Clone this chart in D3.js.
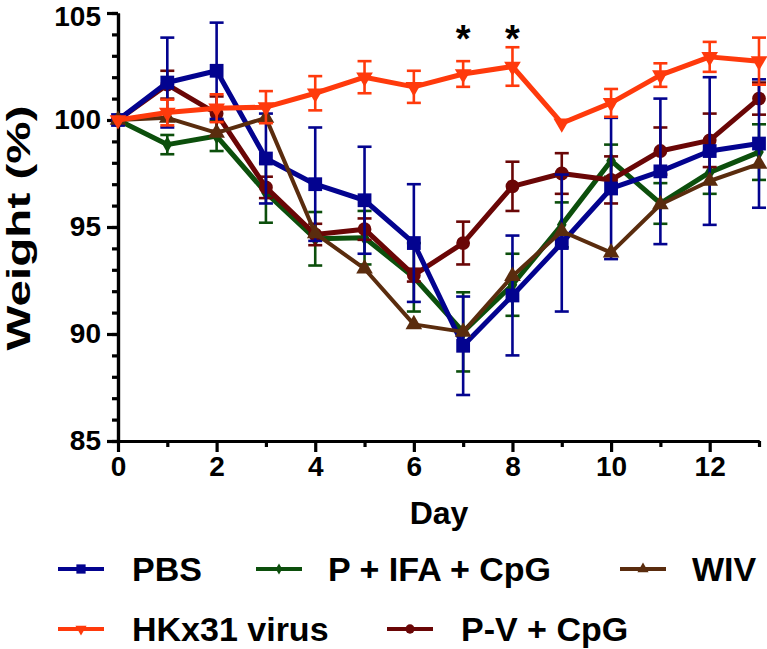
<!DOCTYPE html>
<html>
<head>
<meta charset="utf-8">
<script src="https://cdn.jsdelivr.net/npm/d3@7"></script>
<style>
  html, body { margin: 0; padding: 0; background: #fff; }
  svg text { font-family: "Liberation Sans", Arial, sans-serif; font-weight: bold; fill: #000; }
</style>
</head>
<body>
<svg id="chart" width="767" height="649"></svg>
<script>
// ---- data ----
const days = [0,1,2,3,4,5,6,7,8,9,10,11,12,13];
const seriesNames = ["PBS", "P + IFA + CpG", "WIV", "HKx31 virus", "P-V + CpG"];
const pbsMean  = [100, 101.75, 102.3, 98.2, 97.0, 96.25, 94.25, 89.45, 91.8, 94.25, 96.8, 97.6, 98.55, 98.9];
const pbsErr   = [0, 2.1, 2.25, 2.1, 2.65, 2.5, 2.75, 2.3, 2.8, 3.2, 3.3, 3.4, 3.45, 3.0];
const ifaMean  = [100, 98.85, 99.25, 96.6, 94.45, 94.5, 92.65, 90.1, 92.3, 95.1, 98.1, 96.1, 97.55, 98.5];
const ifaErr   = [0, 0.45, 0.7, 1.4, 1.25, 1.25, 1.6, 1.85, 1.45, 1.05, 0.75, 0.95, 1.0, 1.3];
const wivMean  = [100, 100.1, 99.4, 100.1, 94.7, 93.05, 90.45, 90.1, 92.7, 94.8, 93.8, 96.05, 97.15, 97.95];
const wivErr   = [0, 0, 0, 0, 0, 0, 0, 0, 0, 0, 0, 0, 0, 0];
const hkMean   = [100, 100.35, 100.55, 100.6, 101.25, 102.0, 101.55, 102.15, 102.5, 99.85, 100.8, 102.1, 102.95, 102.75];
const hkErr    = [0, 0.6, 0.65, 0.75, 0.8, 0.75, 0.75, 0.6, 0.9, 0, 0.65, 0.55, 0.7, 1.1];
const pvMean   = [100, 101.65, 100.3, 96.85, 94.65, 94.9, 92.75, 94.25, 96.9, 97.5, 97.2, 98.55, 99.05, 101.0];
const pvErr    = [0, 0.65, 0.8, 0.5, 0.5, 0.5, 0.3, 1.0, 1.15, 0.95, 1.1, 1.1, 1.25, 0.75];
const yTickLabels = [85, 90, 95, 100, 105];
const xTickLabels = [0, 2, 4, 6, 8, 10, 12];
const starDays = [7, 8];
const xTitle = "Day";
const yTitle = "Weight (%)";

// ---- styles ----
const styles = {
  "PBS":           { color: "#03038f", symbol: d3.symbolSquare,   size: 190, rot: 0,   lw: 5 },
  "P + IFA + CpG": { color: "#0c4f0c", symbol: d3.symbolDiamond,  size: 80,  rot: 0,   lw: 5 },
  "WIV":           { color: "#5a2c0e", symbol: d3.symbolTriangle, size: 120, rot: 0,   lw: 4 },
  "HKx31 virus":   { color: "#ff3a0c", symbol: d3.symbolTriangle, size: 120, rot: 180, lw: 5 },
  "P-V + CpG":     { color: "#6a0606", symbol: d3.symbolCircle,   size: 150, rot: 0,   lw: 5 }
};
const seriesData = {
  "PBS": [pbsMean, pbsErr],
  "P + IFA + CpG": [ifaMean, ifaErr],
  "WIV": [wivMean, wivErr],
  "HKx31 virus": [hkMean, hkErr],
  "P-V + CpG": [pvMean, pvErr]
};
const drawOrder = ["P + IFA + CpG", "P-V + CpG", "PBS", "WIV", "HKx31 virus"];

const svg = d3.select("#chart");
const x = d3.scaleLinear().domain([0, 13]).range([118, 759]);
const y = d3.scaleLinear().domain([85, 105]).range([441, 13]);

// ---- axes ----
const yMinor = d3.axisLeft(y).tickValues(d3.range(85, 106, 1)).tickSize(6).tickFormat("").tickSizeOuter(0);
const yMajor = d3.axisLeft(y).tickValues(yTickLabels).tickSize(11).tickSizeOuter(0).tickPadding(6);
const xMinor = d3.axisBottom(x).tickValues(d3.range(1, 14, 2)).tickSize(6).tickFormat("").tickSizeOuter(0);
const xMajor = d3.axisBottom(x).tickValues(xTickLabels).tickSize(11).tickSizeOuter(0).tickPadding(4);

function styleAxis(g) {
  g.selectAll("path.domain").attr("stroke", "#000").attr("stroke-width", 3.2);
  g.selectAll(".tick line").attr("stroke", "#000").attr("stroke-width", 3.2);
  g.selectAll("text").attr("font-size", 28).attr("font-family", "Liberation Sans, Arial, sans-serif").attr("font-weight", "bold").attr("fill", "#000");
}
svg.append("g").attr("transform", `translate(${x(0)},0)`).call(yMinor).call(styleAxis);
svg.append("g").attr("transform", `translate(${x(0)},0)`).call(yMajor).call(styleAxis);
svg.append("g").attr("transform", `translate(0,${y(85)})`).call(xMinor).call(styleAxis);
svg.append("g").attr("transform", `translate(0,${y(85)})`).call(xMajor).call(styleAxis);
// keep the top label fully inside the picture
svg.selectAll("g .tick text").filter(d => d === 105).attr("dy", "0.38em").attr("y", 2);

// axis titles
svg.append("text").attr("x", 439).attr("y", 524).attr("text-anchor", "middle")
  .attr("font-size", 32).text(xTitle);
svg.append("text").attr("transform", "translate(30,228) rotate(-90)").attr("text-anchor", "middle")
  .attr("font-size", 34).attr("textLength", 245).attr("lengthAdjust", "spacingAndGlyphs").text(yTitle);

// ---- series ----
const plot = svg.append("g");
drawOrder.forEach(name => {
  const st = styles[name];
  const [mean, err] = seriesData[name];
  const pts = days.map((d, i) => ({ d, v: mean[i], e: err[i] }));
  const g = plot.append("g");
  const eb = g.selectAll("g.eb").data(pts.filter(p => p.e > 0)).enter().append("g");
  eb.append("line").attr("x1", p => x(p.d)).attr("x2", p => x(p.d))
    .attr("y1", p => y(p.v + p.e)).attr("y2", p => y(p.v - p.e))
    .attr("stroke", st.color).attr("stroke-width", 2.6);
  [1, -1].forEach(s => {
    eb.append("line").attr("x1", p => x(p.d) - 7).attr("x2", p => x(p.d) + 7)
      .attr("y1", p => y(p.v + s * p.e)).attr("y2", p => y(p.v + s * p.e))
      .attr("stroke", st.color).attr("stroke-width", 2.6);
  });
  g.append("path").datum(pts)
    .attr("d", d3.line().x(p => x(p.d)).y(p => y(p.v)))
    .attr("fill", "none").attr("stroke", st.color).attr("stroke-width", st.lw)
    .attr("stroke-linejoin", "round");
  g.selectAll("path.m").data(pts).enter().append("path")
    .attr("d", d3.symbol().type(st.symbol).size(st.size))
    .attr("transform", p => `translate(${x(p.d)},${y(p.v)}) rotate(${st.rot})`)
    .attr("fill", st.color);
});

// significance stars
svg.selectAll("text.star").data(starDays).enter().append("text")
  .attr("x", d => x(d)).attr("y", 52).attr("text-anchor", "middle")
  .attr("font-size", 38).text("*");

// ---- legend ----
const legendItems = [
  { name: "PBS",           lx: 58,  tx: 132, ly: 569 },
  { name: "P + IFA + CpG", lx: 256, tx: 328, ly: 569 },
  { name: "WIV",           lx: 620, tx: 692, ly: 569 },
  { name: "HKx31 virus",   lx: 58,  tx: 132, ly: 629 },
  { name: "P-V + CpG",     lx: 387, tx: 461, ly: 629 }
];
const leg = svg.append("g");
legendItems.forEach(it => {
  const st = styles[it.name];
  leg.append("line").attr("x1", it.lx).attr("x2", it.lx + 46).attr("y1", it.ly).attr("y2", it.ly)
    .attr("stroke", st.color).attr("stroke-width", 4);
  leg.append("path").attr("d", d3.symbol().type(st.symbol).size(st.size * 0.45))
    .attr("transform", `translate(${it.lx + 23},${it.ly}) rotate(${st.rot})`).attr("fill", st.color);
  leg.append("text").attr("x", it.tx).attr("y", it.ly + 12).attr("font-size", 34).text(it.name);
});
</script>
</body>
</html>
